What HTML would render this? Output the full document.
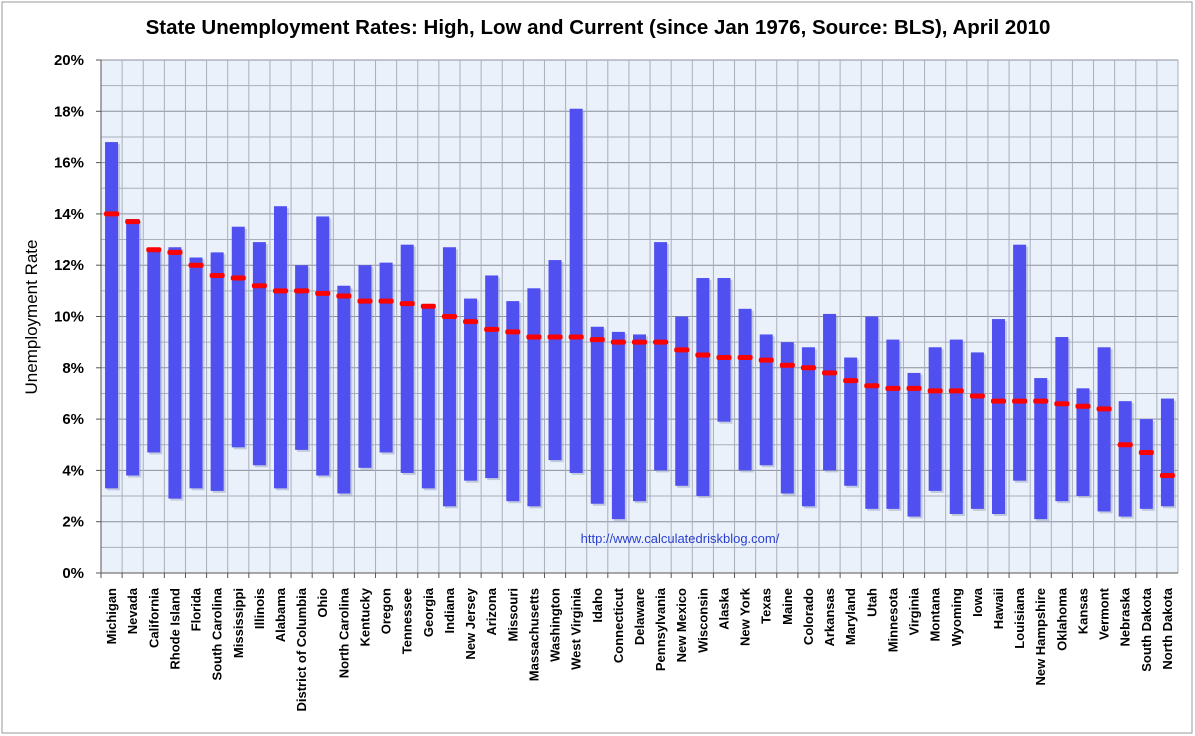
<!DOCTYPE html>
<html><head><meta charset="utf-8"><style>
html,body{margin:0;padding:0;background:#fff;}
svg{display:block;font-family:"Liberation Sans",sans-serif;}
</style></head><body>
<svg id="chart" width="1195" height="736" viewBox="0 0 1195 736">
<rect x="2" y="2" width="1190" height="731" fill="#fff" stroke="#999"/>
<text x="598" y="34" text-anchor="middle" font-size="20.5" font-weight="bold" fill="#000">State Unemployment Rates: High, Low and Current (since Jan 1976, Source: BLS), April 2010</text>
<text transform="translate(37,317) rotate(-90)" text-anchor="middle" font-size="17" fill="#000">Unemployment Rate</text>
<rect x="101" y="60" width="1077" height="513" fill="#eaf1fb"/>
<g id="grid"></g><g id="bars"></g><g id="axes"></g>
<text x="680" y="543" text-anchor="middle" font-size="13" fill="#2a3fd0">http://www.calculatedriskblog.com/</text>
</svg>
<script>
const states=["Michigan","Nevada","California","Rhode Island","Florida","South Carolina","Mississippi","Illinois","Alabama","District of Columbia","Ohio","North Carolina","Kentucky","Oregon","Tennessee","Georgia","Indiana","New Jersey","Arizona","Missouri","Massachusetts","Washington","West Virginia","Idaho","Connecticut","Delaware","Pennsylvania","New Mexico","Wisconsin","Alaska","New York","Texas","Maine","Colorado","Arkansas","Maryland","Utah","Minnesota","Virginia","Montana","Wyoming","Iowa","Hawaii","Louisiana","New Hampshire","Oklahoma","Kansas","Vermont","Nebraska","South Dakota","North Dakota"];
const highs=[16.8,13.8,12.6,12.7,12.3,12.5,13.5,12.9,14.3,12.0,13.9,11.2,12.0,12.1,12.8,10.4,12.7,10.7,11.6,10.6,11.1,12.2,18.1,9.6,9.4,9.3,12.9,10.0,11.5,11.5,10.3,9.3,9.0,8.8,10.1,8.4,10.0,9.1,7.8,8.8,9.1,8.6,9.9,12.8,7.6,9.2,7.2,8.8,6.7,6.0,6.8];
const lows=[3.3,3.8,4.7,2.9,3.3,3.2,4.9,4.2,3.3,4.8,3.8,3.1,4.1,4.7,3.9,3.3,2.6,3.6,3.7,2.8,2.6,4.4,3.9,2.7,2.1,2.8,4.0,3.4,3.0,5.9,4.0,4.2,3.1,2.6,4.0,3.4,2.5,2.5,2.2,3.2,2.3,2.5,2.3,3.6,2.1,2.8,3.0,2.4,2.2,2.5,2.6];
const current=[14.0,13.7,12.6,12.5,12.0,11.6,11.5,11.2,11.0,11.0,10.9,10.8,10.6,10.6,10.5,10.4,10.0,9.8,9.5,9.4,9.2,9.2,9.2,9.1,9.0,9.0,9.0,8.7,8.5,8.4,8.4,8.3,8.1,8.0,7.8,7.5,7.3,7.2,7.2,7.1,7.1,6.9,6.7,6.7,6.7,6.6,6.5,6.4,5.0,4.7,3.8];
const yTicks=[0,2,4,6,8,10,12,14,16,18,20];
const NS="http://www.w3.org/2000/svg";
const L=101,R=1178,T=60,B=573,YMAX=20;
const bw=(R-L)/states.length;
const y=v=>B-(v/YMAX)*(B-T);
const xc=i=>L+bw*(i+0.5);
function mk(tag,attrs,parent){const e=document.createElementNS(NS,tag);for(const k in attrs)e.setAttribute(k,attrs[k]);parent.appendChild(e);return e;}
const grid=document.getElementById('grid'),bars=document.getElementById('bars'),axes=document.getElementById('axes');
for(let v=0;v<=YMAX;v++){const l=mk('line',{x1:L,x2:R,y1:y(v),y2:y(v),stroke:v%2?'#a8afbb':'#8a909c','stroke-width':1},grid);

}
for(let i=1;i<=states.length;i++){const l=mk('line',{x1:L+bw*i,x2:L+bw*i,y1:T,y2:B,stroke:'#a8afbb','stroke-width':1},grid);

}
states.forEach((s,i)=>{
const cx=xc(i);
const sh=mk('rect',{x:cx-6.5+2,y:y(highs[i])+2,width:13,height:y(lows[i])-y(highs[i]),fill:'#9aa3c0',opacity:0.5},bars);


const r=mk('rect',{x:cx-6.5,y:y(highs[i]),width:13,height:y(lows[i])-y(highs[i]),fill:'#5050f0'},bars);


const c=mk('rect',{x:cx-7.5,y:y(current[i])-2.5,width:15,height:5,rx:2,fill:'#ff0000'},bars);


const t=mk('line',{x1:L+bw*i,x2:L+bw*i,y1:B,y2:B+5,stroke:'#555'},axes);


const tx=mk('text',{transform:`translate(${cx+4.5},588) rotate(-90)`,'text-anchor':'end','font-size':13,'font-weight':'bold',fill:'#000'},axes);
tx.textContent=s;


});
const al=mk('line',{x1:L,x2:L,y1:T,y2:B,stroke:'#555'},axes);


const bl=mk('line',{x1:L,x2:R,y1:B,y2:B,stroke:'#555'},axes);


yTicks.forEach(v=>{
const t=mk('line',{x1:L-5,x2:L,y1:y(v),y2:y(v),stroke:'#555'},axes);


const tx=mk('text',{x:84,y:y(v)+5,'text-anchor':'end','font-size':15,'font-weight':'bold',fill:'#000'},axes);
tx.textContent=v+'%';


});
</script>
</body></html>
